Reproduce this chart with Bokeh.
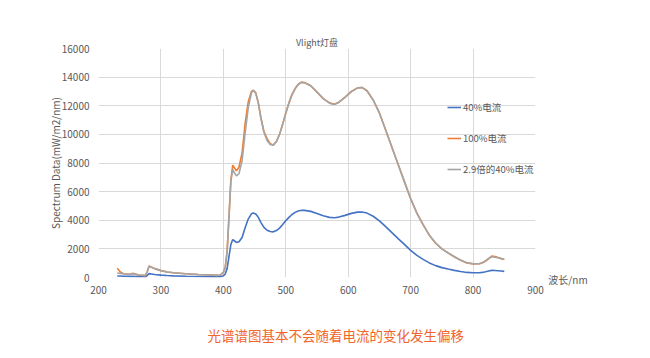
from bokeh.plotting import figure
from bokeh.models import Range1d, Legend, LegendItem, FixedTicker, LinearAxis
from bokeh.embed import file_html
from bokeh.resources import INLINE

wavelength = [230, 235, 240, 245, 250, 255, 260, 265, 270, 275, 278, 281, 285, 290, 300, 310, 320, 340, 360, 380,
              390, 395, 400, 403, 406, 409, 412, 415, 418, 421, 425, 430, 435, 440, 445, 448, 452, 456, 460, 465,
              470, 475, 480, 485, 490, 495, 500, 505, 510, 515, 520, 525, 530, 540, 550, 560, 570, 578, 585, 595,
              605, 615, 622, 630, 640, 650, 660, 670, 680, 690, 700, 710, 720, 730, 740, 750, 760, 770, 780, 790,
              800, 810, 815, 820, 825, 830, 835, 840, 845, 850]

current_40 = [110, 100, 90, 85, 80, 90, 75, 60, 55, 50, 140, 270, 250, 215, 165, 135, 115, 90, 72, 60,
              52, 58, 120, 240, 620, 1450, 2300, 2650, 2550, 2450, 2500, 2800, 3500, 4100, 4450, 4510, 4430, 4200, 3850, 3500,
              3300, 3210, 3190, 3280, 3450, 3700, 3960, 4200, 4400, 4550, 4650, 4700, 4690, 4620, 4470, 4310, 4200, 4170, 4220, 4340,
              4480, 4570, 4580, 4500, 4280, 3960, 3550, 3140, 2720, 2310, 1900, 1550, 1270, 1020, 830, 690, 590, 500, 420, 355,
              330, 330, 355, 400, 460, 500, 490, 475, 455, 430]

current_100 = [650, 380, 260, 240, 230, 290, 220, 170, 150, 130, 400, 800, 720, 620, 480, 390, 330, 260, 210, 170,
               150, 170, 350, 700, 1800, 4200, 6800, 7850, 7650, 7450, 7700, 8700, 10800, 12300, 13000, 13080, 12900, 12200, 11200, 10200,
               9700, 9350, 9250, 9500, 10000, 10700, 11500, 12200, 12800, 13200, 13500, 13650, 13620, 13400, 12950, 12500, 12200, 12100, 12250, 12600,
               13000, 13250, 13280, 13050, 12400, 11500, 10300, 9100, 7900, 6700, 5500, 4500, 3700, 2950, 2400, 2000, 1720, 1450, 1200, 1020,
               950, 960, 1030, 1150, 1320, 1500, 1470, 1400, 1320, 1270]

scaled_40 = [320, 290, 260, 245, 230, 260, 220, 175, 160, 145, 400, 780, 720, 620, 480, 390, 330, 260, 210, 175,
             150, 170, 350, 700, 1800, 4200, 6700, 7550, 7300, 7100, 7250, 8150, 10150, 11900, 12900, 13080, 12850, 12200, 11150, 10150,
             9570, 9300, 9250, 9500, 10000, 10700, 11480, 12180, 12760, 13200, 13480, 13630, 13600, 13400, 12960, 12500, 12180, 12090, 12240, 12590,
             12990, 13250, 13280, 13050, 12410, 11480, 10300, 9100, 7890, 6700, 5510, 4500, 3680, 2960, 2410, 2000, 1710, 1450, 1220, 1030,
             960, 960, 1030, 1160, 1330, 1450, 1420, 1380, 1320, 1250]

series_names = ["40%电流", "100%电流", "2.9倍的40%电流"]
x_ticks = [200, 300, 400, 500, 600, 700, 800, 900]
y_ticks = [0, 2000, 4000, 6000, 8000, 10000, 12000, 14000, 16000]
x_unit = "波长/nm"
caption_text = "光谱谱图基本不会随着电流的变化发生偏移"
caption_anchor = 580

FONT = "Noto Sans CJK SC"
TXT = "#595959"


def bare_axis(ax, size, color):
    ax.axis_line_color = None
    ax.major_tick_line_color = None
    ax.minor_tick_line_color = None
    ax.major_label_text_font = FONT
    ax.major_label_text_font_size = size
    ax.major_label_text_color = color
    ax.major_label_text_font_style = "normal"


p = figure(width=650, height=358, output_backend="svg", toolbar_location=None,
           x_range=Range1d(200, 900), y_range=Range1d(0, 16000),
           min_border_left=98, min_border_right=115, min_border_top=48, min_border_bottom=81)
p.outline_line_color = None
p.background_fill_color = "white"
p.border_fill_color = "white"

p.title.text = "Vlight灯盘"
p.title.align = "center"
p.title.standoff = 0
p.title.text_font = FONT
p.title.text_font_size = "9px"
p.title.text_font_style = "normal"
p.title.text_color = TXT

bare_axis(p.xaxis[0], "10px", TXT)
bare_axis(p.yaxis[0], "10px", TXT)
p.xaxis.ticker = FixedTicker(ticks=x_ticks)
p.yaxis.ticker = FixedTicker(ticks=y_ticks)
p.xaxis.major_label_standoff = 2
p.yaxis.major_label_standoff = 3
p.yaxis.axis_label = "Spectrum Data(mW/m2/nm)"
p.yaxis.axis_label_text_font = FONT
p.yaxis.axis_label_text_font_size = "10px"
p.yaxis.axis_label_text_font_style = "normal"
p.yaxis.axis_label_text_color = TXT
p.yaxis.axis_label_standoff = -4

# unit label at the end of the x axis
pad = "\u2002" * 13
unit_axis = LinearAxis(ticker=FixedTicker(ticks=[x_ticks[-1]]),
                       major_label_overrides={x_ticks[-1]: pad + x_unit})
bare_axis(unit_axis, "10px", TXT)
unit_axis.major_label_standoff = -31
p.add_layout(unit_axis, "below")

# caption under the chart
caption_axis = LinearAxis(ticker=FixedTicker(ticks=[caption_anchor]),
                          major_label_overrides={caption_anchor: caption_text})
bare_axis(caption_axis, "13.5px", "#F0652A")
caption_axis.major_label_standoff = 22
p.add_layout(caption_axis, "below")

p.xgrid.grid_line_color = "#D9D9D9"
p.ygrid.grid_line_color = "#D9D9D9"
p.xgrid.ticker = FixedTicker(ticks=x_ticks)
p.ygrid.ticker = FixedTicker(ticks=y_ticks)

colors = ["#4472C4", "#ED7D31", "#A5A5A5"]
ys = [current_40, current_100, scaled_40]
renderers = []
for yv, c in zip(ys, colors):
    r = p.line(wavelength, yv, line_color=c, line_width=1.6)
    renderers.append(r)

legend = Legend(items=[LegendItem(label=n, renderers=[r]) for n, r in zip(series_names, renderers)],
                location=(349, 101), orientation="vertical")
legend.background_fill_alpha = 0
legend.border_line_color = None
legend.padding = 0
legend.margin = 0
legend.glyph_width = 14
legend.glyph_height = 12
legend.label_height = 12
legend.label_standoff = 2
legend.spacing = 17
legend.label_text_font = FONT
legend.label_text_font_size = "9.5px"
legend.label_text_color = TXT
p.add_layout(legend, "center")

open("out.html", "w").write(file_html(p, INLINE))
